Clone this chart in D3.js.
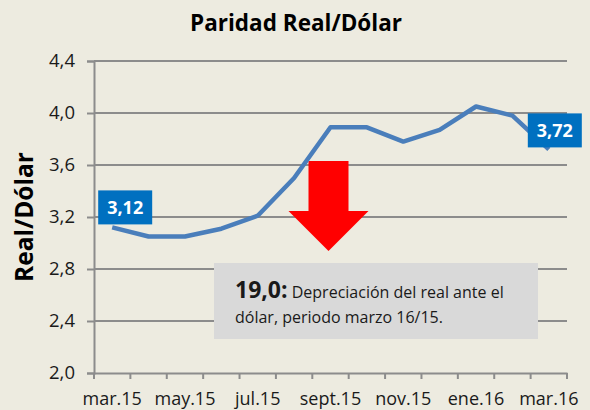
<!DOCTYPE html>
<html>
<head>
<meta charset="utf-8">
<script src="https://cdn.jsdelivr.net/npm/d3@7"></script>
<style>
  html, body { margin: 0; padding: 0; background: #EDEBE0; }
  svg { display: block; font-family: "Open Sans", sans-serif; }
</style>
</head>
<body>
<div id="chart"></div>
<script>
// ---- Data
const months = ['mar.15', 'abr.15', 'may.15', 'jun.15', 'jul.15', 'ago.15', 'sept.15',
                'oct.15', 'nov.15', 'dic.15', 'ene.16', 'feb.16', 'mar.16'];
const rate = [3.12, 3.05, 3.05, 3.11, 3.21, 3.50, 3.89, 3.89, 3.78, 3.87, 4.05, 3.98, 3.72];
const yTicks = [2.0, 2.4, 2.8, 3.2, 3.6, 4.0, 4.4];
const shownMonths = ['mar.15', 'may.15', 'jul.15', 'sept.15', 'nov.15', 'ene.16', 'mar.16'];
const title = 'Paridad Real/Dólar';
const yTitle = 'Real/Dólar';
const noteValue = '19,0:';
const noteLines = ['Depreciación del real ante el', 'dólar, periodo marzo 16/15.'];

const width = 590, height = 410;
const margin = { top: 61, right: 23, bottom: 37, left: 94 };
const fmt = (v, d) => d3.format(`.${d}f`)(v).replace('.', ',');
const font = '"Open Sans", sans-serif';

const svg = d3.select('#chart').append('svg')
    .attr('width', width).attr('height', height);

svg.append('rect').attr('width', width).attr('height', height).attr('fill', '#EDEBE0');

const x = d3.scaleBand().domain(months).range([margin.left, width - margin.right]);
const y = d3.scaleLinear().domain([2.0, 4.4]).range([height - margin.bottom, margin.top]);
const cx = (m) => x(m) + x.bandwidth() / 2;

// ---- Title
svg.append('text')
    .attr('x', 296).attr('y', 31)
    .attr('text-anchor', 'middle')
    .style('font-weight', 700).style('font-size', '22.5px')
    .text(title);

// ---- Grid lines
svg.append('g')
    .selectAll('line')
    .data(yTicks.slice(1))
    .join('line')
    .attr('x1', margin.left).attr('x2', width - margin.right)
    .attr('y1', (d) => y(d)).attr('y2', (d) => y(d))
    .attr('stroke', '#8C8C8C').attr('stroke-width', 2);

// ---- Y axis
const yAxis = svg.append('g')
    .attr('transform', `translate(${margin.left},0)`)
    .call(d3.axisLeft(y).tickValues(yTicks).tickSize(7).tickPadding(12).tickFormat((d) => fmt(d, 1)));
yAxis.select('.domain').attr('stroke', '#8C8C8C').attr('stroke-width', 2);
yAxis.selectAll('.tick line').attr('stroke', '#8C8C8C').attr('stroke-width', 2);
yAxis.selectAll('.tick text')
    .style('font-family', font)
    .style('font-size', '18.5px').attr('fill', '#1a1a1a');

// ---- X axis
const xAxis = svg.append('g')
    .attr('transform', `translate(0,${height - margin.bottom})`)
    .call(d3.axisBottom(x).tickSize(0).tickPadding(19)
        .tickFormat((d) => shownMonths.includes(d) ? d : ''));
xAxis.select('.domain').attr('stroke', '#8C8C8C').attr('stroke-width', 2);
xAxis.selectAll('.tick text')
    .style('font-family', font)
    .style('font-size', '18px').attr('fill', '#1a1a1a');
// boundary tick marks between categories
xAxis.append('g')
    .selectAll('line')
    .data(months.concat(['end']))
    .join('line')
    .attr('x1', (d, i) => margin.left + i * x.bandwidth())
    .attr('x2', (d, i) => margin.left + i * x.bandwidth())
    .attr('y1', 0).attr('y2', 6)
    .attr('stroke', '#8C8C8C').attr('stroke-width', 2);

// ---- Y title
svg.append('text')
    .attr('transform', `translate(33,${(margin.top + height - margin.bottom) / 2}) rotate(-90)`)
    .attr('text-anchor', 'middle')
    .style('font-weight', 700).style('font-size', '24.5px')
    .text(yTitle);

// ---- Note box and arrow
svg.append('rect')
    .attr('x', 214).attr('y', 263).attr('width', 324).attr('height', 76)
    .attr('fill', '#D9D9D9');

const note = svg.append('text').attr('x', 235).attr('y', 298).attr('fill', '#1a1a1a');
note.append('tspan').style('font-weight', 700).style('font-size', '23px').text(noteValue);
note.append('tspan').style('font-size', '16px').text(' ' + noteLines[0]);
svg.append('text').attr('x', 235).attr('y', 323).attr('fill', '#1a1a1a')
    .style('font-size', '16px').text(noteLines[1]);

const arrowX = cx('sept.15') - 2;
svg.append('path')
    .attr('d', d3.line()([
        [arrowX - 20, 161], [arrowX + 20, 161], [arrowX + 20, 211], [arrowX + 40, 211],
        [arrowX, 251], [arrowX - 40, 211], [arrowX - 20, 211]
    ]) + 'Z')
    .attr('fill', '#FF0000');

// ---- Line
svg.append('path')
    .datum(rate)
    .attr('d', d3.line().x((d, i) => cx(months[i])).y((d) => y(d)))
    .attr('fill', 'none')
    .attr('stroke', '#4A7EBB')
    .attr('stroke-width', 4.5)
    .attr('stroke-linejoin', 'round');

// ---- End labels
const labels = [
    { i: 0, dx: -14, dy: -37 },
    { i: months.length - 1, dx: -21, dy: -36 }
];
labels.forEach((l) => {
    const px = cx(months[l.i]) + l.dx, py = y(rate[l.i]) + l.dy;
    svg.append('rect').attr('x', px).attr('y', py).attr('width', 54).attr('height', 34)
        .attr('fill', '#0070C0');
    svg.append('text').attr('x', px + 27).attr('y', py + 24)
        .attr('text-anchor', 'middle').attr('fill', '#fff')
        .style('font-weight', 700).style('font-size', '18px')
        .text(fmt(rate[l.i], 2));
});
</script>
</body>
</html>
